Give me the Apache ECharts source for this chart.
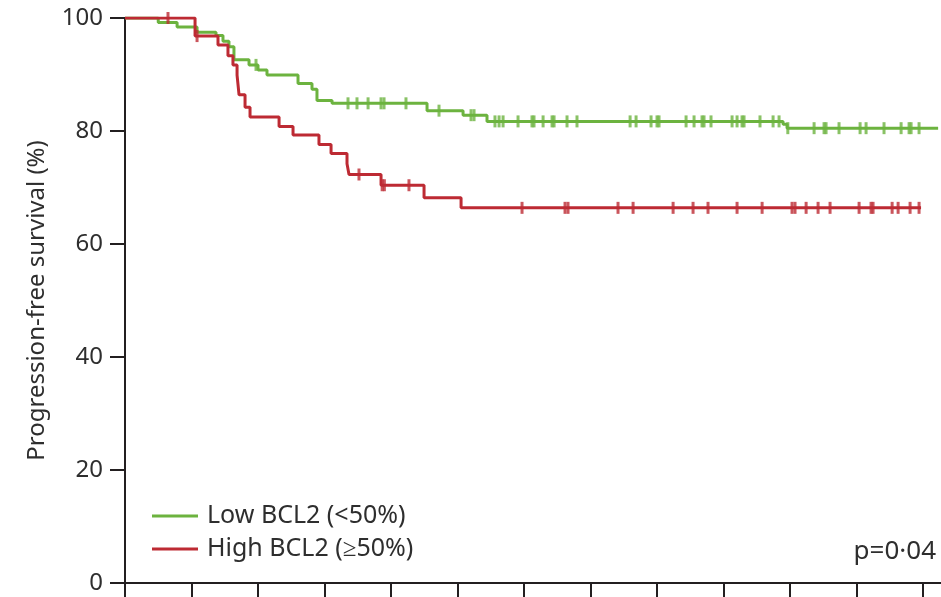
<!DOCTYPE html>
<html>
<head>
<meta charset="utf-8">
<script src="https://cdn.jsdelivr.net/npm/echarts@6/dist/echarts.min.js"></script>
<style>
html,body{margin:0;padding:0;background:#fff;}
#chart{width:941px;height:597px;}
</style>
</head>
<body>
<div id="chart"></div>
<script>
// ---- data (time in months, survival in %) ----
const lowName = 'Low BCL2 (<50%)';
const highName = 'High BCL2 (≥50%)';
const pValueText = 'p=0·04';
const yTicks = [0, 20, 40, 60, 80, 100];
const xTicks = [0, 6, 12, 18, 24, 30, 36, 42, 48, 54, 60, 66, 72];

const lowTimes = [0, 3.0, 4.7, 6.5, 8.21, 8.84, 9.38, 9.83, 11.19, 12.0, 12.81, 15.61, 16.87, 17.32, 18.68, 27.25, 30.5, 32.66, 59.37, 59.73, 73.36];
const lowSurv  = [100, 99.2, 98.4, 97.5, 96.9, 95.9, 94.9, 92.6, 91.7, 90.8, 89.9, 88.4, 87.4, 85.4, 84.9, 83.6, 82.8, 81.7, 81.2, 80.5, 80.5];
const lowCensor = [11.82, 20.12, 20.93, 21.93, 23.1, 23.37, 25.35, 28.33, 31.22, 31.49, 33.38, 33.75, 34.11, 35.46, 36.72, 36.9, 37.72, 38.53, 38.71, 39.88, 40.78, 45.57, 46.11, 47.46, 48.0, 48.18, 50.62, 51.34, 52.06, 52.24, 52.87, 54.77, 55.22, 55.67, 55.85, 57.29, 58.47, 59.01, 59.8, 62.17, 63.07, 63.25, 64.42, 66.32, 66.86, 68.48, 70.02, 70.74, 70.92, 71.64];

const highTimes = [0, 6.32, 8.39, 9.29, 9.74, 10.11, 10.29, 10.83, 11.28, 13.9, 15.16, 17.5, 18.59, 20.03, 20.21, 23.1, 26.98, 30.32, 71.82];
const highSurv  = [100, 96.8, 95.2, 93.3, 91.7, 89.9, 86.4, 84.2, 82.5, 80.8, 79.3, 77.6, 76.0, 74.2, 72.3, 70.4, 68.2, 66.4, 66.4];
const highCensor = [3.88, 6.5, 21.11, 23.2, 23.4, 25.62, 35.82, 39.7, 39.97, 44.48, 45.84, 49.45, 51.25, 52.6, 55.22, 57.48, 60.18, 60.45, 61.45, 62.53, 63.61, 66.23, 67.31, 67.49, 69.21, 69.75, 70.83, 71.64];

// ---- helpers ----
function pairs(xs, ys) { return xs.map((x, i) => [x, ys[i]]); }
function levelAt(xs, ys, t) {
  let v = ys[0];
  for (let i = 0; i < xs.length; i++) { if (xs[i] <= t) v = ys[i]; }
  return v;
}
function censorPts(cs, xs, ys) { return cs.map(t => [t, levelAt(xs, ys, t)]); }

const GREEN = '#6cb33f';
const RED = '#bd2a33';
const AXIS = '#231f20';
const TXT = '#2e2e2e';
const FONT = 'Noto Sans';

const chart = echarts.init(document.getElementById('chart'), null, {renderer: 'canvas'});
chart.setOption({
  animation: false,
  backgroundColor: '#ffffff',
  textStyle: {fontFamily: FONT},
  grid: {left: 125, right: 0, top: 18, bottom: 14, containLabel: false},
  title: {
    text: pValueText,
    right: 0, top: 534,
    textStyle: {fontFamily: FONT, fontSize: 26, fontWeight: 'normal', color: TXT}
  },
  legend: {
    orient: 'vertical',
    left: 152, top: 503,
    padding: 0,
    icon: 'rect',
    itemWidth: 46, itemHeight: 3,
    itemGap: 7,
    data: [lowName, highName],
    textStyle: {fontFamily: FONT, fontSize: 25, color: TXT, lineHeight: 26, padding: [0, 0, 0, 4]}
  },
  xAxis: {
    type: 'value',
    min: 0, max: 73.62,
    axisLine: {show: true, onZero: false, lineStyle: {color: AXIS, width: 2}},
    axisTick: {show: true, length: 14, lineStyle: {color: AXIS, width: 2}, customValues: xTicks},
    axisLabel: {show: false},
    splitLine: {show: false}
  },
  yAxis: {
    type: 'value',
    min: 0, max: 100, interval: 20,
    name: 'Progression-free survival (%)',
    nameLocation: 'middle',
    nameGap: 76,
    nameTextStyle: {fontFamily: FONT, fontSize: 24, color: TXT},
    axisLine: {show: true, lineStyle: {color: AXIS, width: 2}},
    axisTick: {show: true, length: 15, lineStyle: {color: AXIS, width: 2}, customValues: yTicks},
    axisLabel: {show: true, fontFamily: FONT, fontSize: 24, color: TXT, margin: 22, customValues: yTicks},
    splitLine: {show: false}
  },
  series: [
    {
      name: lowName, type: 'line', step: 'end', showSymbol: false,
      data: pairs(lowTimes, lowSurv),
      lineStyle: {color: GREEN, width: 3}, itemStyle: {color: GREEN}, z: 2
    },
    {
      name: highName, type: 'line', step: 'end', showSymbol: false,
      data: pairs(highTimes, highSurv),
      lineStyle: {color: RED, width: 3}, itemStyle: {color: RED}, z: 3
    },
    {
      name: lowName + ' censored', type: 'scatter',
      data: censorPts(lowCensor, lowTimes, lowSurv),
      symbol: 'rect', symbolSize: [3, 12],
      itemStyle: {color: GREEN}, z: 2
    },
    {
      name: highName + ' censored', type: 'scatter',
      data: censorPts(highCensor, highTimes, highSurv),
      symbol: 'rect', symbolSize: [3, 12],
      itemStyle: {color: RED}, z: 3
    }
  ]
});
</script>
</body>
</html>
